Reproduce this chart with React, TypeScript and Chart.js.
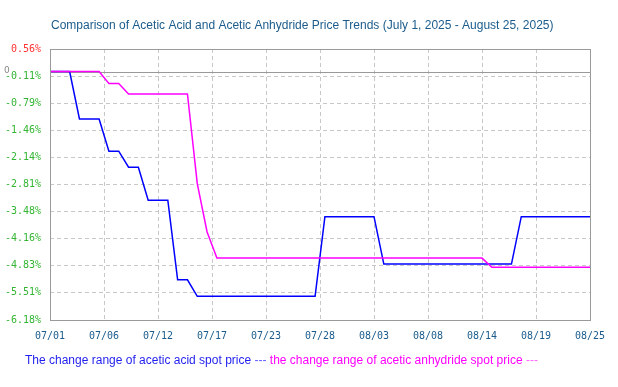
import React, { useEffect, useRef } from 'react';
import { Chart, registerables } from 'chart.js';

Chart.register(...registerables);

// Day offsets from 2025-07-01 (0) to 2025-08-25 (55)
const DAY_COUNT = 56;

// Daily change range (%) of acetic acid spot price
const ACID_VALUES = [
  0, 0, 0, -1.18, -1.18, -1.18, -1.98, -1.98, -2.38, -2.38,
  -3.2, -3.2, -3.2, -5.18, -5.18, -5.59, -5.59, -5.59, -5.59, -5.59,
  -5.59, -5.59, -5.59, -5.59, -5.59, -5.59, -5.59, -5.59, -3.61, -3.61,
  -3.61, -3.61, -3.61, -3.61, -4.79, -4.79, -4.79, -4.79, -4.79, -4.79,
  -4.79, -4.79, -4.79, -4.79, -4.79, -4.79, -4.79, -4.79, -3.61, -3.61,
  -3.61, -3.61, -3.61, -3.61, -3.61, -3.61,
];

// Daily change range (%) of acetic anhydride spot price
const ANHYDRIDE_VALUES = [
  0, 0, 0, 0, 0, 0, -0.3, -0.3, -0.56, -0.56,
  -0.56, -0.56, -0.56, -0.56, -0.56, -2.79, -3.99, -4.64, -4.64, -4.64,
  -4.64, -4.64, -4.64, -4.64, -4.64, -4.64, -4.64, -4.64, -4.64, -4.64,
  -4.64, -4.64, -4.64, -4.64, -4.64, -4.64, -4.64, -4.64, -4.64, -4.64,
  -4.64, -4.64, -4.64, -4.64, -4.64, -4.87, -4.87, -4.87, -4.87, -4.87,
  -4.87, -4.87, -4.87, -4.87, -4.87, -4.87,
];

const X_TICKS = [0, 5.5, 11, 16.5, 22, 27.5, 33, 38.5, 44, 49.5, 55];
const X_TICK_LABELS = ['07/01', '07/06', '07/12', '07/17', '07/23', '07/28', '08/03', '08/08', '08/14', '08/19', '08/25'];

const Y_TICKS = [0.56, -0.114, -0.788, -1.462, -2.136, -2.81, -3.484, -4.158, -4.832, -5.506, -6.18];
const Y_TICK_LABELS = ['0.56%', '-0.11%', '-0.79%', '-1.46%', '-2.14%', '-2.81%', '-3.48%', '-4.16%', '-4.83%', '-5.51%', '-6.18%'];

const TITLE = 'Comparison of Acetic Acid and Acetic Anhydride Price Trends (July 1, 2025 - August 25, 2025)';
const LEGEND_ACID = 'The change range of acetic acid spot price';
const LEGEND_ANHYDRIDE = 'the change range of acetic anhydride spot price';

const BLUE = '#0000ff';
const MAGENTA = '#ff00ff';

const decorPlugin = {
  id: 'decor',
  beforeDatasetsDraw(chart: any) {
    const { ctx, chartArea, scales } = chart;
    const y0 = Math.round(scales.y.getPixelForValue(0)) + 0.5;
    ctx.save();
    ctx.strokeStyle = '#999999';
    ctx.lineWidth = 1;
    ctx.beginPath();
    ctx.moveTo(chartArea.left, y0);
    ctx.lineTo(chartArea.right, y0);
    ctx.stroke();
    ctx.fillStyle = '#888888';
    ctx.font = '9px "DejaVu Sans"';
    ctx.textAlign = 'left';
    ctx.textBaseline = 'middle';
    ctx.fillText('0', 4, y0 - 2);
    ctx.restore();
  },
  afterDraw(chart: any) {
    const { ctx, chartArea } = chart;
    ctx.save();
    // plot frame
    ctx.strokeStyle = '#9a9a9a';
    ctx.lineWidth = 1;
    ctx.strokeRect(
      Math.round(chartArea.left) + 0.5,
      Math.round(chartArea.top) + 0.5,
      Math.round(chartArea.right - chartArea.left),
      Math.round(chartArea.bottom - chartArea.top)
    );
    // title
    ctx.fillStyle = '#1b5c8c';
    ctx.font = '12px "Liberation Sans", Arial, sans-serif';
    ctx.textAlign = 'left';
    ctx.textBaseline = 'alphabetic';
    ctx.fillText(TITLE, 51, 29);
    // legend
    ctx.font = '12px "Liberation Sans", Arial, sans-serif';
    let x = 25;
    const yb = 364;
    ctx.fillStyle = '#1f1fee';
    ctx.fillText(LEGEND_ACID, x, yb);
    x += ctx.measureText(LEGEND_ACID + ' ').width;
    ctx.fillStyle = '#6060ff';
    ctx.fillText('---', x, yb);
    x += ctx.measureText('--- ').width;
    ctx.fillStyle = '#ff00ff';
    ctx.fillText(LEGEND_ANHYDRIDE, x, yb);
    x += ctx.measureText(LEGEND_ANHYDRIDE + ' ').width;
    ctx.fillStyle = '#ff66ff';
    ctx.fillText('---', x, yb);
    ctx.restore();
  },
};

export default function App() {
  const canvasRef = useRef<HTMLCanvasElement | null>(null);

  useEffect(() => {
    if (!canvasRef.current) return;
    const days = Array.from({ length: DAY_COUNT }, (_, i) => i);
    const chart = new Chart(canvasRef.current, {
      type: 'line',
      data: {
        datasets: [
          {
            label: LEGEND_ANHYDRIDE,
            data: days.map((d) => ({ x: d, y: ANHYDRIDE_VALUES[d] })),
            borderColor: MAGENTA,
            borderWidth: 1.5,
            pointRadius: 0,
            tension: 0,
            fill: false,
          },
          {
            label: LEGEND_ACID,
            data: days.map((d) => ({ x: d, y: ACID_VALUES[d] })),
            borderColor: BLUE,
            borderWidth: 1.5,
            pointRadius: 0,
            tension: 0,
            fill: false,
          },
        ],
      },
      options: {
        responsive: false,
        animation: false,
        layout: { padding: { top: 49, right: 28, left: 0, bottom: 0 } },
        plugins: {
          legend: { display: false },
          tooltip: { enabled: false },
          title: { display: false },
        },
        scales: {
          x: {
            type: 'linear',
            min: 0,
            max: 55,
            afterBuildTicks: (scale: any) => {
              scale.ticks = X_TICKS.map((v) => ({ value: v }));
            },
            afterFit: (scale: any) => {
              scale.height = 67;
            },
            ticks: {
              autoSkip: false,
              maxRotation: 0,
              padding: 10,
              color: '#1b5c8c',
              font: { family: '"DejaVu Sans Mono", monospace', size: 10 },
              callback: (_v: any, i: number) => X_TICK_LABELS[i],
            },
            grid: { color: '#c8c8c8', lineWidth: 1, drawTicks: false },
            border: { display: false, dash: [4, 3] },
          },
          y: {
            type: 'linear',
            min: -6.18,
            max: 0.56,
            afterBuildTicks: (scale: any) => {
              scale.ticks = Y_TICKS.map((v) => ({ value: v }));
            },
            afterFit: (scale: any) => {
              scale.width = 50;
            },
            ticks: {
              autoSkip: false,
              padding: 9,
              color: (c: any) => (c.index === 0 ? '#ff3333' : '#33b533'),
              font: { family: '"DejaVu Sans Mono", monospace', size: 10 },
              callback: (_v: any, i: number) => Y_TICK_LABELS[i],
            },
            grid: { color: '#c8c8c8', lineWidth: 1, drawTicks: false },
            border: { display: false, dash: [4, 3] },
          },
        },
      },
      plugins: [decorPlugin],
    });
    return () => chart.destroy();
  }, []);

  return (
    <div style={{ position: 'absolute', left: 0, top: 0, width: 618, height: 387, background: '#ffffff' }}>
      <canvas ref={canvasRef} width={618} height={387} style={{ display: 'block' }} />
    </div>
  );
}
